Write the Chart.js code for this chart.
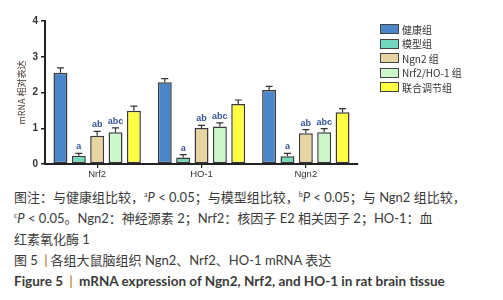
<!DOCTYPE html>
<html>
<head>
<meta charset="utf-8">
<script src="https://cdn.jsdelivr.net/npm/chart.js@4.4.1/dist/chart.umd.min.js"></script>
<style>
  body { margin: 0; width: 503px; height: 300px; background: #fff; position: relative; overflow: hidden;
         font-family: Lato, "Noto Sans CJK SC", sans-serif; }
  #wrap { position: absolute; left: 0; top: 0; width: 503px; height: 186px; }
  #legend { position: absolute; left: 380px; top: 22px; font-size: 10px; color: #333;
            font-family: "Noto Sans CJK SC", sans-serif; }
  .row { height: 14.5px; display: flex; align-items: center; }
  .box { width: 17px; height: 8px; border: 1.5px solid #444; margin-right: 3px; }
  #cap { position: absolute; left: 14px; top: 187px; font-size: 13px; line-height: 21px; color: #3a3a3a; }
  #cap div { white-space: nowrap; }
  #cap sup { font-size: 7px; vertical-align: 5px; line-height: 0; }
  .sep { color: #c08a4a; padding: 0 3px; font-weight: bold; }
  .fig { font-size: 13.5px; }
</style>
</head>
<body>
<div id="wrap"><canvas id="chart" width="503" height="186"></canvas></div>
<div id="legend"></div>
<div id="cap">
  <div>图注：与健康组比较，<sup>a</sup><i>P</i> &lt; 0.05；与模型组比较，<sup>b</sup><i>P</i> &lt; 0.05；与 Ngn2 组比较，</div>
  <div><sup>c</sup><i>P</i> &lt; 0.05。Ngn2：神经源素 2；Nrf2：核因子 E2 相关因子 2；HO-1：血</div>
  <div>红素氧化酶 1</div>
  <div>图 5 <span class="sep">|</span>各组大鼠脑组织 Ngn2、Nrf2、HO-1 mRNA 表达</div>
  <div class="fig"><b>Figure 5 <span class="sep">|</span> mRNA expression of Ngn2, Nrf2, and HO-1 in rat brain tissue</b></div>
</div>
<script>
const categories = ['Nrf2', 'HO-1', 'Ngn2'];
const groups = ['健康组', '模型组', 'Ngn2 组', 'Nrf2/HO-1 组', '联合调节组'];
const colors = ['#4a86c8', '#72d8be', '#e8d4a0', '#ccf8cc', '#ffff44'];

// means per group, in order Nrf2, HO-1, Ngn2
const healthy  = [2.55, 2.29, 2.07];
const model    = [0.23, 0.18, 0.22];
const ngn2     = [0.79, 1.01, 0.86];
const nrf2ho1  = [0.89, 1.05, 0.89];
const combined = [1.49, 1.68, 1.45];

// SEM (upper bar only visible)
const healthyErr  = [0.14, 0.10, 0.10];
const modelErr    = [0.07, 0.08, 0.08];
const ngn2Err     = [0.12, 0.07, 0.10];
const nrf2ho1Err  = [0.12, 0.10, 0.10];
const combinedErr = [0.13, 0.11, 0.10];

// significance letters
const healthySig  = ['', '', ''];
const modelSig    = ['a', 'a', 'a'];
const ngn2Sig     = ['ab', 'ab', 'ab'];
const nrf2ho1Sig  = ['abc', 'abc', 'abc'];
const combinedSig = ['', '', ''];

const yTicks = [0, 1, 2, 3, 4];

const series = [
  [healthy, healthyErr, healthySig],
  [model, modelErr, modelSig],
  [ngn2, ngn2Err, ngn2Sig],
  [nrf2ho1, nrf2ho1Err, nrf2ho1Sig],
  [combined, combinedErr, combinedSig]
];

// legend
const legend = document.getElementById('legend');
groups.forEach((g, i) => {
  const row = document.createElement('div');
  row.className = 'row';
  row.innerHTML = '<div class="box" style="background:' + colors[i] + '"></div><span>' + g + '</span>';
  legend.appendChild(row);
});

const errorBars = {
  id: 'errorBars',
  afterDatasetsDraw(chart) {
    const ctx = chart.ctx;
    const y = chart.scales.y;
    chart.data.datasets.forEach((ds, i) => {
      const meta = chart.getDatasetMeta(i);
      meta.data.forEach((bar, j) => {
        const top = y.getPixelForValue(ds.data[j] + ds.err[j]);
        ctx.save();
        ctx.strokeStyle = '#333';
        ctx.lineWidth = 1.2;
        ctx.beginPath();
        ctx.moveTo(bar.x, bar.y);
        ctx.lineTo(bar.x, top);
        ctx.moveTo(bar.x - 3.5, top);
        ctx.lineTo(bar.x + 3.5, top);
        ctx.stroke();
        if (ds.sig[j]) {
          ctx.fillStyle = '#34559a';
          ctx.font = 'bold 9px "Liberation Sans", Arial, sans-serif';
          ctx.textAlign = 'center';
          ctx.textBaseline = 'bottom';
          ctx.fillText(ds.sig[j], bar.x, top - 2);
        }
        ctx.restore();
      });
    });
  }
};

new Chart(document.getElementById('chart'), {
  type: 'bar',
  data: {
    labels: categories,
    datasets: series.map((s, i) => ({
      label: groups[i],
      data: s[0],
      err: s[1],
      sig: s[2],
      backgroundColor: colors[i],
      borderColor: '#3a3a3a',
      borderWidth: 1.5,
      borderSkipped: false,
      categoryPercentage: 0.88,
      barPercentage: 0.76
    }))
  },
  options: {
    responsive: false,
    animation: false,
    layout: { padding: { top: 21, right: 145, left: 0, bottom: 0 } },
    plugins: { legend: { display: false }, tooltip: { enabled: false } },
    scales: {
      x: {
        afterFit: (s) => { s.height = 22; },
        grid: { display: true, drawOnChartArea: false, offset: false, tickLength: 4, color: '#222', lineWidth: 1.2 },
        border: { color: '#222', width: 2 },
        ticks: { color: '#333', font: { size: 9.5, family: '"Liberation Sans", Arial, sans-serif' }, padding: 1 }
      },
      y: {
        min: 0, max: 4,
        afterFit: (s) => { s.width = 45; },
        afterBuildTicks: (s) => { s.ticks = yTicks.map(v => ({ value: v })); },
        grid: { display: true, drawOnChartArea: false, tickLength: 4, color: '#222', lineWidth: 1.5 },
        border: { color: '#222', width: 2 },
        ticks: { color: '#333', font: { size: 10, weight: 'bold', family: '"Liberation Sans", Arial, sans-serif' }, padding: 3 },
        title: {
          display: true, text: 'mRNA 相对表达', color: '#4a3a30',
          font: { size: 9, family: '"Noto Sans CJK SC", sans-serif' },
          padding: { top: 16, bottom: 0 }
        }
      }
    }
  },
  plugins: [errorBars]
});
</script>
</body>
</html>
